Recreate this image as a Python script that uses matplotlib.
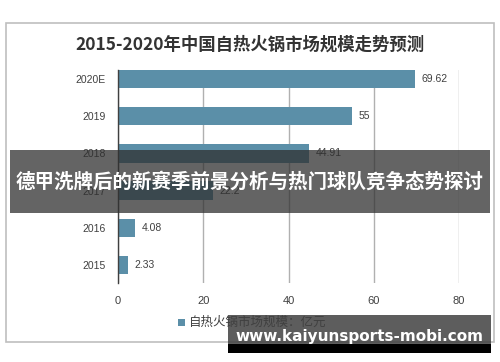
import matplotlib
matplotlib.use("Agg")
import matplotlib.pyplot as plt
from matplotlib.patches import Rectangle

plt.rcParams['font.family'] = ['Noto Sans CJK SC', 'DejaVu Sans']

categories = ["2015", "2016", "2017", "2018", "2019", "2020E"]
values = [2.33, 4.08, 22.2, 44.91, 55, 69.62]
value_labels = ["2.33", "4.08", "22.2", "44.91", "55", "69.62"]
xticks = [0, 20, 40, 60, 80]
title = "2015-2020年中国自热火锅市场规模走势预测"
legend_label = "自热火锅市场规模：亿元"
banner_text = "德甲洗牌后的新赛季前景分析与热门球队竞争态势探讨"
watermark = "www.kaiyunsports-mobi.com"

bar_color = "#5b8fa8"

fig = plt.figure(figsize=(5, 3.62), dpi=100)
fig.patch.set_facecolor("white")

# outer frame
fig.add_artist(Rectangle((6/500, 1-342/362), 488/500, (342-23)/362, transform=fig.transFigure,
                         fill=False, edgecolor="#bfbfbf", linewidth=1.2))

ax = fig.add_axes([118/500, 1-283/362, (459-118)/500, (283-70)/362])
ypos = list(range(len(categories)))
ax.barh(ypos, values, height=0.5, color=bar_color, zorder=3)
for y, v, lab in zip(ypos, values, value_labels):
    ax.text(v + 1.5, y, lab, va="center", ha="left", fontsize=7.5, color="#404040",
            family=["Liberation Sans", "DejaVu Sans"])
ax.set_xlim(0, 80)
ax.set_ylim(-0.48, 5.24)
ax.set_yticks(ypos)
ax.set_yticklabels(categories, fontsize=7.5, color="#404040", family=["Liberation Sans", "DejaVu Sans"])
ax.set_xticks(xticks)
ax.set_xticklabels([str(t) for t in xticks], fontsize=8, color="#404040", family=["Liberation Sans", "DejaVu Sans"])
ax.tick_params(axis="both", length=0, pad=9)
ax.grid(axis="x", color="#b0b0b0", linewidth=1, zorder=0)
for s in ["top", "right", "bottom"]:
    ax.spines[s].set_visible(False)
ax.spines["left"].set_color("#404040")
ax.spines["left"].set_linewidth(1)
ax.spines["left"].set_zorder(4)

fig.text(0.5, 1-45/362, title, ha="center", va="center", fontsize=12.5, fontweight="bold", color="#333333")

# legend
fig.add_artist(Rectangle((178/500, 1-326/362), 7/500, 7/362, transform=fig.transFigure,
                         facecolor=bar_color, edgecolor="none"))
fig.text(189/500, 1-322/362, legend_label, ha="left", va="center", fontsize=9, color="#404040")

# banner
fig.add_artist(Rectangle((10/500, 1-213/362), 480/500, 63/362, transform=fig.transFigure,
                         facecolor="#303030", alpha=0.75, edgecolor="none", zorder=10))
fig.text(0.5, 1-182/362, banner_text, ha="center", va="center", fontsize=14, fontweight="bold",
         color="white", zorder=11)

# watermark
fig.add_artist(Rectangle((228/500, 1-353/362), 263/500, 38/362, transform=fig.transFigure,
                         facecolor="#404040", alpha=0.85, edgecolor="none", zorder=10))
fig.add_artist(Rectangle((228/500, 1-353/362), 263/500, 9/362, transform=fig.transFigure,
                         facecolor="black", edgecolor="none", zorder=10))
fig.text(359/500, 1-336/362, watermark, ha="center", va="center", fontsize=11, fontweight="bold",
         color="white", zorder=11, family=["DejaVu Sans"])

fig.savefig("out.png", dpi=100)
